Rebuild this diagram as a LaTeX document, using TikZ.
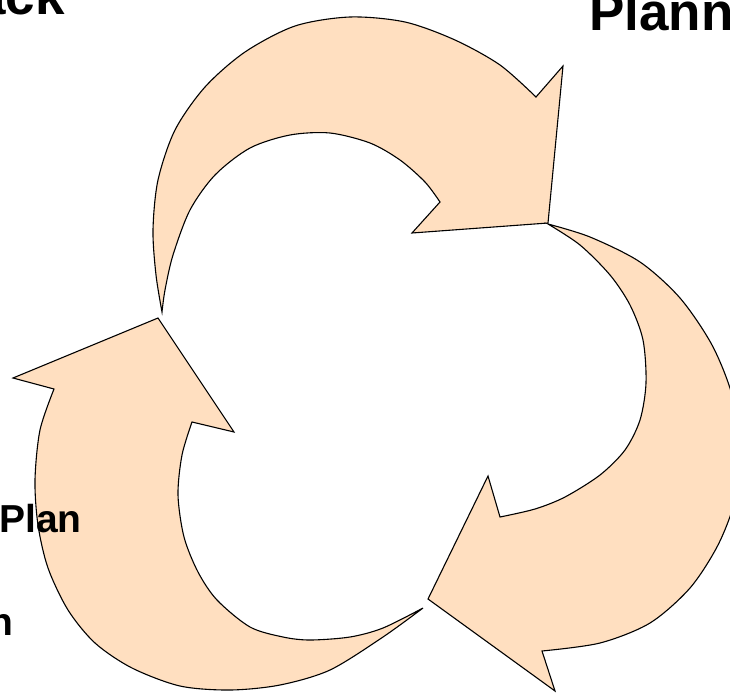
\documentclass[tikz,border=0pt]{standalone}
\usepackage{fontspec}
\setmainfont{Liberation Sans}
\definecolor{peach}{RGB}{255,223,192}
\begin{document}
\begin{tikzpicture}[x=1pt,y=-1pt,
  arrowshape/.style={fill=peach,draw=black,line width=1.1pt,line join=miter},
  biglbl/.style={font=\fontsize{53}{63}\selectfont\bfseries,inner sep=0pt},
  smalllbl/.style={font=\fontsize{39}{47}\selectfont\bfseries,inner sep=0pt}]
\useasboundingbox (0,0) rectangle (730,693);
\clip (0,0) rectangle (730,693);
% top arrow
\path[arrowshape] (162,312)
  -- plot[smooth] coordinates {(162,312) (156,275) (153,230) (158,180) (175,130) (205,87) (245,52) (295,26) (350,17) (405,22) (455,40) (500,65) (536,97)}
  -- (563,66) -- (548,223) -- (412,233) -- (440,202)
  -- plot[smooth] coordinates {(440,202) (425,182) (400,160) (370,143) (330,133) (290,135) (250,148) (215,175) (190,210) (173,255) (165,290) (162,312)}
  -- cycle;
% right arrow
\path[arrowshape] (548,224)
  -- plot[smooth] coordinates {(548,224) (590,237) (640,262) (680,298) (712,345) (732,395) (740,450) (735,500) (718,545) (690,588) (650,623) (600,643) (542,651)}
  -- (555,691) -- (428,599) -- (488,476) -- (500,517)
  -- plot[smooth] coordinates {(500,517) (535,509) (565,497) (600,475) (625,450) (640,420) (646,383) (643,340) (630,305) (610,275) (580,245) (548,224)}
  -- cycle;
% bottom-left arrow
\path[arrowshape] (423,608)
  -- plot[smooth] coordinates {(423,608) (383,637) (330,670) (280,685) (230,690) (180,686) (132,668) (95,643) (68,610) (48,568) (38,525) (35,480) (40,430) (54,389)}
  -- (13,378) -- (158,318) -- (234,432) -- (192,422)
  -- plot[smooth] coordinates {(192,422) (182,455) (178,495) (184,537) (198,572) (217,600) (250,627) (283,637) (310,640) (350,637) (383,628) (423,608)}
  -- cycle;
% labels
\node[biglbl,anchor=base east] (feedback) at (65,15) {ack};
\node[biglbl,anchor=base west] (planning) at (589,31) {Plann};
\node[smalllbl,anchor=base west] (plan) at (-1,532) {Plan};
\node[smalllbl,anchor=base east] (lowern) at (14,635) {n};
\end{tikzpicture}
\end{document}
